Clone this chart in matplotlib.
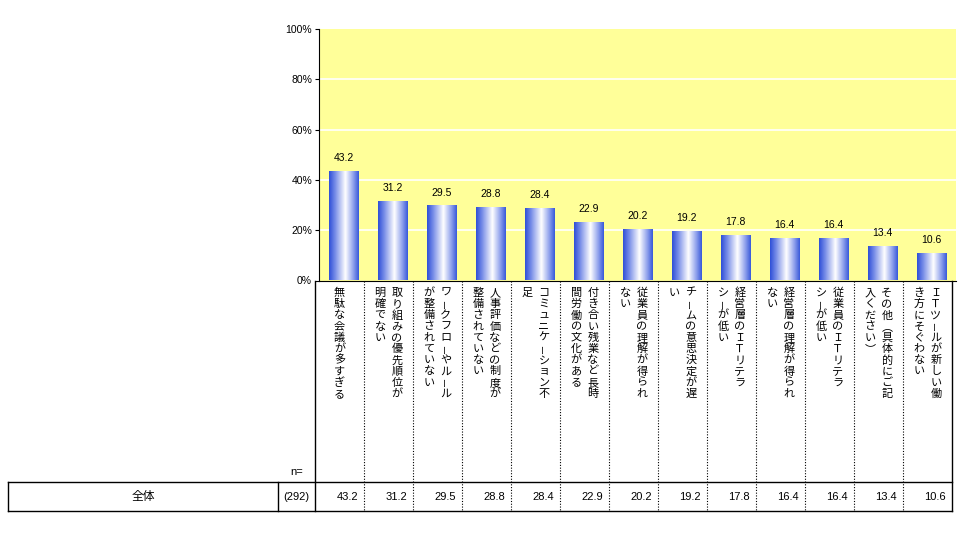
import matplotlib
matplotlib.use("Agg")
import matplotlib.pyplot as plt
import numpy as np
from matplotlib.colors import LinearSegmentedColormap

# ---- data ----
categories = [
    "無駄な会議が多すぎる",
    "取り組みの優先順位が\n明確でない",
    "ワークフローやルール\nが整備されていない",
    "人事評価などの制度が\n整備されていない",
    "コミュニケーション不\n足",
    "付き合い残業など長時\n間労働の文化がある",
    "従業員の理解が得られ\nない",
    "チームの意思決定が遅\nい",
    "経営層のＩＴリテラ\nシーが低い",
    "経営層の理解が得られ\nない",
    "従業員のＩＴリテラ\nシーが低い",
    "その他（具体的にご記\n入ください）",
    "ＩＴツールが新しい働\nき方にそぐわない",
]
values = [43.2, 31.2, 29.5, 28.8, 28.4, 22.9, 20.2, 19.2, 17.8, 16.4, 16.4, 13.4, 10.6]
row_label = "全体"
n_label = "(292)"
yticks = [0, 20, 40, 60, 80, 100]

W, H = 961, 547
fig = plt.figure(figsize=(W / 100, H / 100), dpi=100)
fig.patch.set_facecolor("white")

JP = ["Noto Sans CJK JP", "DejaVu Sans"]
NUM = ["Liberation Sans Narrow", "Liberation Sans", "DejaVu Sans"]

# ---- chart axes ----
ax_l, ax_r, ax_t, ax_b = 319, 956, 29, 280.5
ax = fig.add_axes([ax_l / W, 1 - ax_b / H, (ax_r - ax_l) / W, (ax_b - ax_t) / H])
ax.set_facecolor("#FFFF99")
ax.set_xlim(-0.5, len(values) - 0.5)
ax.set_ylim(0, 100)
ax.set_yticks(yticks)
ax.set_yticklabels([f"{t}%" for t in yticks], family=NUM, fontsize=7.5)
ax.set_xticks([])
for s in ["top", "right"]:
    ax.spines[s].set_visible(False)
ax.spines["left"].set_color("black")
ax.spines["bottom"].set_color("black")
ax.tick_params(axis="y", length=3, width=0.8, pad=2)
for t in yticks[1:-1]:
    ax.axhline(t, color="white", lw=1.2, zorder=1)

cmap = LinearSegmentedColormap.from_list(
    "barg", [(0, "#3050D8"), (0.18, "#6F86E6"), (0.55, "#FFFFFF"), (0.82, "#8EA0EC"), (1, "#3A5ADA")])
grad = np.linspace(0, 1, 64).reshape(1, -1)
bw = 0.6
for i, v in enumerate(values):
    ax.imshow(grad, extent=[i - bw / 2, i + bw / 2, 0, v], cmap=cmap,
              aspect="auto", zorder=3, interpolation="bilinear")
    ax.text(i, v + 3.5, f"{v:.1f}", ha="center", va="bottom", fontsize=7.5,
            family=NUM, zorder=4)
ax.set_xlim(-0.5, len(values) - 0.5)
ax.set_ylim(0, 100)
ax.set_aspect("auto")

# ---- table / labels overlay ----
ov = fig.add_axes([0, 0, 1, 1])
ov.set_xlim(0, W)
ov.set_ylim(H, 0)
ov.axis("off")
ov.patch.set_visible(False)

tx0, colw = 315, 49
ncol = len(values)
tx1 = tx0 + ncol * colw
top, rtop, rbot = 280.5, 482, 511
left0, ncell = 8, 278

lk = dict(color="black", lw=1.0)
ov.plot([tx0, tx0], [top, rbot], **lk)
ov.plot([tx1, tx1], [top, rbot], **lk)
ov.plot([left0, tx1], [rtop, rtop], **lk)
ov.plot([left0, tx1], [rbot, rbot], **lk)
ov.plot([left0, left0], [rtop, rbot], **lk)
ov.plot([ncell, ncell], [rtop, rbot], **lk)
for j in range(1, ncol):
    x = tx0 + j * colw
    ov.plot([x, x], [top, rbot], color="black", lw=0.8, ls=(0, (1, 1.5)))

ov.text((left0 + ncell) / 2, (rtop + rbot) / 2, row_label, ha="center", va="center",
        fontsize=8.5, family=JP)
ov.text((ncell + tx0) / 2, (rtop + rbot) / 2, n_label, ha="center", va="center",
        fontsize=8, family=NUM)
ov.text((ncell + tx0) / 2, 472, "n=", ha="center", va="center", fontsize=8, family=NUM)

# vertical-writing forms for a few characters
vert_forms = {"（": "︵", "）": "︶"}
rot_chars = {"ー": 90}
ch_step = 11.2
col_step = 16.8
y_first = 293
for j, lab in enumerate(categories):
    cx = tx0 + (j + 0.5) * colw
    cols = lab.split("\n")
    k = len(cols)
    for c, col in enumerate(cols):
        # first column is rightmost
        x = cx + ((k - 1) / 2 - c) * col_step
        for i, ch in enumerate(col):
            y = y_first + i * ch_step
            rot = rot_chars.get(ch, 0)
            ov.text(x, y, vert_forms.get(ch, ch), ha="center", va="center",
                    fontsize=6.5 if ch == "ー" else 8, family=JP,
                    rotation=rot, rotation_mode="anchor")
    ov.text(tx0 + (j + 1) * colw - 6, (rtop + rbot) / 2, f"{values[j]:.1f}",
            ha="right", va="center", fontsize=8, family=NUM)

fig.savefig("out.png", dpi=100)
